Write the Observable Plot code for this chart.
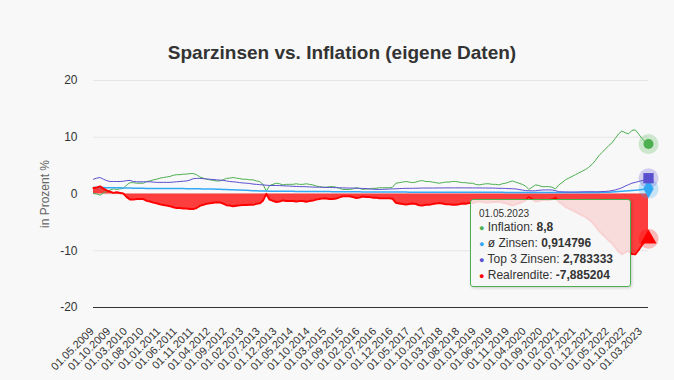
<!DOCTYPE html>
<html>
<head>
<meta charset="utf-8">
<script src="https://cdn.jsdelivr.net/npm/d3@7"></script>
<script src="https://cdn.jsdelivr.net/npm/@observablehq/plot@0.6"></script>
<style>
  html, body { margin: 0; padding: 0; background: #f8f8f8; }
  body { width: 674px; height: 380px; position: relative; overflow: hidden; font-family: "Liberation Sans", Arial, sans-serif; }
  #title { height: 66px; box-sizing: border-box; padding-top: 43px; text-align: center; font-size: 19px; line-height: 19px; font-weight: bold; color: #333; position: relative; left: 5px; }
  #chart svg { display: block; }
  #tip { position: absolute; left: 470px; top: 199px; width: 161px; height: 88px; box-sizing: border-box;
         border: 1px solid #4caf50; border-radius: 3px; background: rgba(247,247,247,0.85);
         box-shadow: 1px 1px 3px rgba(0,0,0,0.18); padding: 8px 0 6px 8px; color: #333; white-space: nowrap; }
  #tip .hd { font-size: 10px; line-height: 12px; }
  #tip .ln { font-size: 12px; line-height: 15px; }
  #tip .bl { font-size: 9px; }
</style>
</head>
<body>
<div id="title">Sparzinsen vs. Inflation (eigene Daten)</div>
<div id="chart"></div>
<div id="tip"></div>
<script>
// Monthly categories 01.05.2009 … 01.05.2023 (one month missing in 2015)
const missingMonth = "01.06.2015";
const dates = [];
for (let y = 2009, m = 5; dates.length < 168; ) {
  const s = "01." + String(m).padStart(2, "0") + "." + y;
  if (s !== missingMonth) dates.push(s);
  m++; if (m > 12) { m = 1; y++; }
}

const seriesNames = ["Inflation", "ø Zinsen", "Top 3 Zinsen", "Realrendite"];

const inflation = [
  0.1,0.0,-0.2,0.2,0.5,0.7,0.9,0.8,0.9,1.0,
  1.6,2.0,2.0,1.9,1.9,1.9,2.2,2.3,2.5,2.6,
  2.8,2.9,3.0,3.1,3.3,3.4,3.4,3.5,3.5,3.6,
  3.6,3.4,3.0,2.8,2.6,2.5,2.4,2.3,2.3,2.5,
  2.75,2.8,2.9,2.8,2.7,2.6,2.6,2.5,2.5,2.3,
  2.2,1.7,0.5,1.5,1.7,1.9,1.8,1.6,1.7,1.7,
  1.7,1.8,1.7,1.7,1.8,1.7,1.6,1.4,1.3,1.2,
  1.2,1.3,1.3,1.2,1.0,0.8,0.8,0.8,0.9,1.1,
  1.0,0.8,0.9,0.9,1.0,1.0,1.1,1.1,1.1,1.1,
  1.2,1.9,2.0,2.1,2.2,2.1,2.0,2.1,2.3,2.35,
  2.2,2.2,2.1,2.0,1.9,2.0,2.1,2.1,2.2,2.2,
  2.1,2.0,2.0,1.9,1.9,1.7,1.6,1.7,1.8,1.8,
  1.7,1.7,1.6,1.8,1.9,2.1,2.3,2.1,1.9,1.7,
  1.4,0.8,1.2,1.6,1.5,1.3,1.3,1.3,1.2,0.9,
  1.6,2.0,2.5,2.8,3.1,3.4,3.7,4.0,4.3,4.7,
  5.2,5.9,6.7,7.3,7.9,8.5,9.0,9.8,10.6,11.1,
  10.8,10.6,11.2,11.3,10.6,9.8,9.2,8.8
];

const zinsen = [
  1.15,1.15,1.14,1.13,1.12,1.11,1.10,1.09,1.08,1.07,
  1.05,1.04,1.03,1.02,1.01,1.00,0.99,0.99,0.98,0.98,
  0.97,0.97,0.96,0.96,0.96,0.95,0.95,0.95,0.94,0.94,
  0.94,0.93,0.92,0.90,0.89,0.88,0.86,0.84,0.82,0.80,
  0.78,0.76,0.74,0.72,0.70,0.68,0.65,0.62,0.59,0.57,
  0.55,0.53,0.52,0.50,0.49,0.48,0.47,0.47,0.47,0.47,
  0.47,0.46,0.46,0.46,0.45,0.45,0.44,0.44,0.43,0.43,
  0.42,0.42,0.41,0.41,0.40,0.40,0.40,0.39,0.39,0.38,
  0.38,0.37,0.37,0.37,0.36,0.36,0.36,0.36,0.35,0.35,
  0.35,0.34,0.34,0.34,0.34,0.33,0.33,0.33,0.33,0.33,
  0.32,0.32,0.32,0.32,0.32,0.32,0.31,0.31,0.31,0.31,
  0.31,0.31,0.30,0.30,0.30,0.30,0.30,0.30,0.30,0.30,
  0.29,0.29,0.29,0.29,0.28,0.28,0.28,0.28,0.28,0.28,
  0.27,0.27,0.27,0.27,0.27,0.27,0.26,0.26,0.26,0.26,
  0.26,0.26,0.25,0.25,0.25,0.25,0.25,0.25,0.25,0.25,
  0.25,0.26,0.27,0.29,0.31,0.33,0.36,0.40,0.44,0.48,
  0.52,0.57,0.62,0.67,0.72,0.78,0.85,0.914796
];

const top3 = [
  2.6,2.8,2.9,2.6,2.35,2.2,2.2,2.2,2.2,2.25,
  2.35,2.4,2.2,2.15,2.15,2.15,2.15,2.15,2.1,2.05,
  2.05,2.05,2.05,2.05,2.1,2.15,2.2,2.25,2.3,2.45,
  2.7,2.75,2.75,2.7,2.65,2.6,2.55,2.5,2.45,2.4,
  2.3,2.2,2.15,2.1,2.0,1.95,1.9,1.85,1.75,1.7,
  1.65,1.6,1.55,1.5,1.5,1.5,1.48,1.45,1.42,1.4,
  1.35,1.33,1.3,1.3,1.28,1.25,1.22,1.2,1.2,1.18,
  1.15,1.14,1.13,1.12,1.1,1.08,1.06,1.05,1.04,1.02,
  1.0,0.98,0.95,0.9,0.85,0.82,0.8,0.82,0.85,0.88,
  0.9,0.92,0.95,0.97,1.0,1.0,1.0,1.02,1.03,1.05,
  1.05,1.05,1.05,1.05,1.07,1.07,1.08,1.08,1.08,1.08,
  1.08,1.08,1.08,1.08,1.07,1.07,1.07,1.06,1.06,1.05,
  1.05,1.03,1.0,1.0,0.98,0.95,0.92,0.9,0.8,0.7,
  0.6,0.58,0.55,0.58,0.65,0.7,0.72,0.72,0.7,0.6,
  0.4,0.38,0.36,0.35,0.35,0.35,0.36,0.38,0.4,0.4,
  0.4,0.4,0.4,0.42,0.45,0.5,0.6,0.72,0.9,1.1,
  1.4,1.65,1.9,2.05,2.2,2.35,2.55,2.783333
];

const realrendite = [
  1.05,1.15,1.34,0.93,0.62,0.41,0.20,0.29,0.18,0.07,
  -0.55,-0.96,-0.97,-0.88,-0.89,-0.90,-1.21,-1.31,-1.52,-1.62,
  -1.83,-1.93,-2.04,-2.14,-2.34,-2.45,-2.45,-2.55,-2.56,-2.66,
  -2.66,-2.47,-2.08,-1.90,-1.71,-1.62,-1.54,-1.46,-1.48,-1.70,
  -1.97,-2.04,-2.16,-2.08,-2.00,-1.92,-1.95,-1.88,-1.91,-1.73,
  -1.65,-1.17,0.02,-1.00,-1.21,-1.42,-1.33,-1.13,-1.23,-1.23,
  -1.23,-1.34,-1.24,-1.24,-1.35,-1.25,-1.16,-0.96,-0.87,-0.77,
  -0.78,-0.88,-0.89,-0.79,-0.60,-0.40,-0.40,-0.41,-0.51,-0.72,
  -0.62,-0.43,-0.53,-0.53,-0.64,-0.64,-0.74,-0.74,-0.75,-0.75,
  -0.85,-1.56,-1.66,-1.76,-1.86,-1.77,-1.67,-1.77,-1.97,-2.02,
  -1.88,-1.88,-1.78,-1.68,-1.58,-1.68,-1.79,-1.79,-1.89,-1.89,
  -1.79,-1.69,-1.70,-1.60,-1.60,-1.40,-1.30,-1.40,-1.50,-1.50,
  -1.41,-1.41,-1.31,-1.51,-1.62,-1.82,-2.02,-1.82,-1.62,-1.42,
  -1.13,-0.53,-0.93,-1.33,-1.23,-1.03,-1.04,-1.04,-0.94,-0.64,
  -1.34,-1.74,-2.25,-2.55,-2.85,-3.15,-3.45,-3.75,-4.05,-4.45,
  -4.95,-5.64,-6.43,-7.01,-7.59,-8.17,-8.64,-9.40,-10.16,-10.62,
  -10.28,-10.03,-10.58,-10.63,-9.88,-9.02,-8.35,-7.885204
];

const yTicks = [-20, -10, 0, 10, 20];
const xTickStep = 5;

const colors = { infl: "#4caf50", zins: "#33a9f5", top: "#5a4fcf", real: "#ff0000" };

const rows = dates.map((d, i) => ({ i, date: d, infl: inflation[i], zins: zinsen[i], top: top3[i], real: realrendite[i] }));
const xTicks = d3.range(0, dates.length, xTickStep);
const last = [rows[rows.length - 1]];

const chart = Plot.plot({
  width: 674,
  height: 314,
  marginTop: 14,
  marginBottom: 73,
  marginLeft: 93,
  marginRight: 26,
  style: { background: "transparent", fontFamily: "'Liberation Sans', Arial, sans-serif", fontSize: "12px", color: "#333", overflow: "visible" },
  x: { domain: [0, dates.length - 1], axis: null },
  y: { domain: [-20, 20], ticks: yTicks, tickSize: 0, tickPadding: 16, label: null, tickFormat: d => String(d) },
  marks: [
    Plot.ruleY([20, 10, 0, -10], { stroke: "#e6e6e6" }),
    Plot.areaY(rows, { x: "i", y: "real", fill: colors.real, fillOpacity: 0.75 }),
    Plot.lineY(rows, { x: "i", y: "infl", stroke: colors.infl, strokeWidth: 1 }),
    Plot.lineY(rows, { x: "i", y: "zins", stroke: colors.zins, strokeWidth: 1.5 }),
    Plot.lineY(rows, { x: "i", y: "top", stroke: colors.top, strokeWidth: 1 }),
    Plot.lineY(rows, { x: "i", y: "real", stroke: colors.real, strokeWidth: 2 }),
    Plot.ruleY([-20], { stroke: "#333" }),
    Plot.text(xTicks, { x: d => d, y: () => -20, text: d => dates[d], rotate: -45, textAnchor: "end", lineAnchor: "middle", dx: -1.5, dy: 22, fontSize: 11, fill: "#333" }),
    Plot.text(["in Prozent %"], { frameAnchor: "left", textAnchor: "middle", rotate: -90, dx: -48, fontSize: 12, fill: "#666" }),
    // hover halos + markers at the last point
    Plot.dot(last, { x: "i", y: "infl", r: 10, fill: colors.infl, fillOpacity: 0.25 }),
    Plot.dot(last, { x: "i", y: "zins", r: 10, fill: colors.zins, fillOpacity: 0.25 }),
    Plot.dot(last, { x: "i", y: "top", r: 10, fill: colors.top, fillOpacity: 0.25 }),
    Plot.dot(last, { x: "i", y: "real", r: 10, fill: colors.real, fillOpacity: 0.25 }),
    Plot.dot(last, { x: "i", y: "infl", r: 5, symbol: "circle", fill: colors.infl }),
    Plot.dot(last, { x: "i", y: "zins", r: 5.5, symbol: "diamond", fill: colors.zins }),
    Plot.dot(last, { x: "i", y: "top", r: 5.8, symbol: "square", fill: colors.top }),
    Plot.dot(last, { x: "i", y: "real", r: 6, symbol: "triangle", fill: colors.real })
  ]
});
document.getElementById("chart").appendChild(chart);

// tooltip for the last point
const fmt = v => String(v).replace(".", ",");
const p = rows[rows.length - 1];
const vals = [p.infl, p.zins, p.top, p.real];
const cols = [colors.infl, colors.zins, colors.top, colors.real];
const tip = document.getElementById("tip");
let html = `<div class="hd">${p.date}</div>`;
seriesNames.forEach((n, k) => {
  html += `<div class="ln"><span class="bl" style="color:${cols[k]}">●</span> ${n}: <b>${fmt(vals[k])}</b></div>`;
});
tip.innerHTML = html;
</script>
</body>
</html>
